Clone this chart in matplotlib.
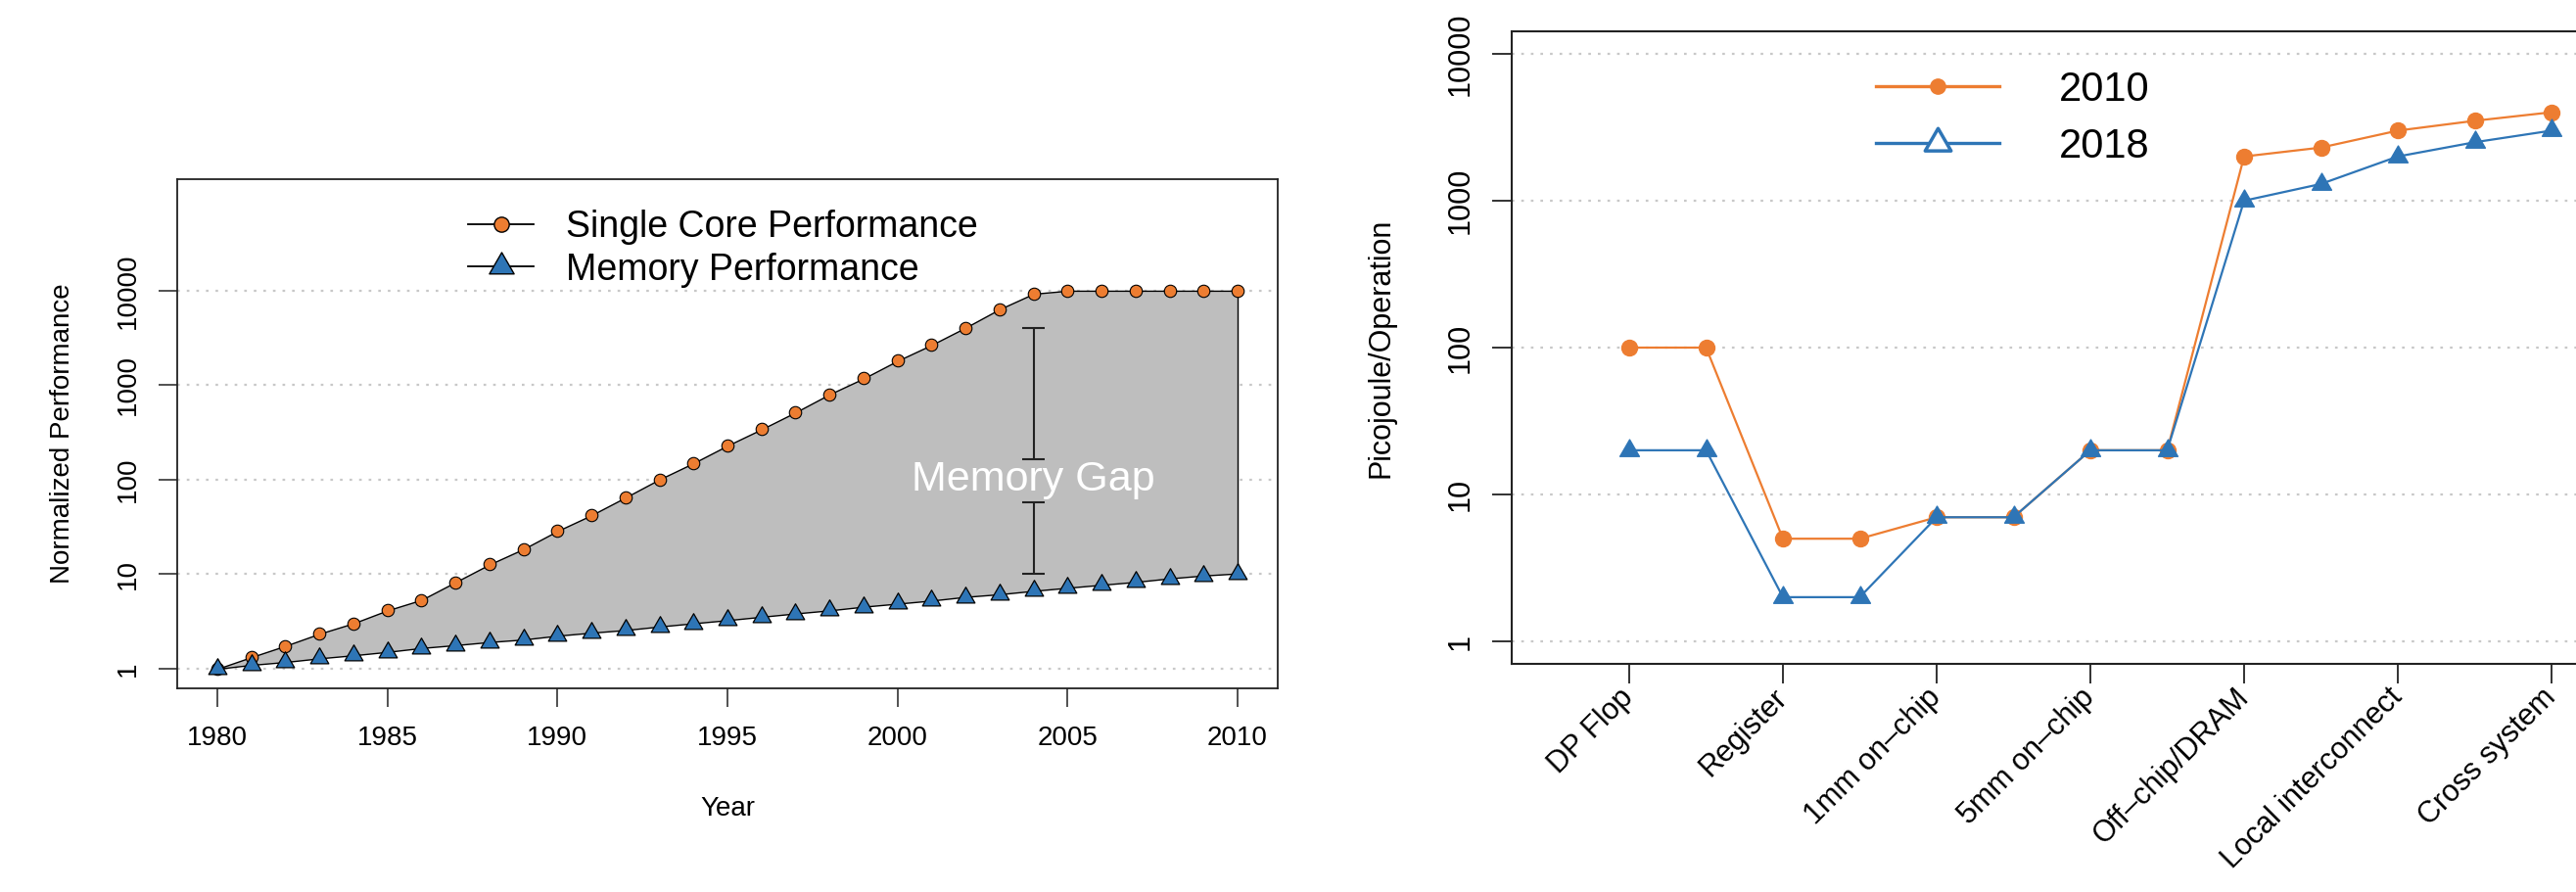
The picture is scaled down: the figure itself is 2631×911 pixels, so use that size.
import matplotlib
matplotlib.use('Agg')
import matplotlib.pyplot as plt
from matplotlib.lines import Line2D
from matplotlib.path import Path
from matplotlib.ticker import NullLocator

plt.rcParams['font.family'] = ['Liberation Sans', 'DejaVu Sans']

# ---------------- data: left panel ----------------
years = list(range(1980, 2011))
single_core = [1, 1.33, 1.75, 2.35, 3.03, 4.15, 5.36, 8.25, 12.7, 18.5,
               28.7, 42.2, 65, 101, 150, 230, 342, 517, 802, 1180,
               1815, 2670, 4070, 6380, 9290, 10000, 10000, 10000, 10000, 10000,
               10000]
memory = [1, 1.1, 1.18, 1.29, 1.39, 1.51, 1.66, 1.78, 1.92, 2.04,
          2.24, 2.41, 2.57, 2.8, 3.03, 3.27, 3.55, 3.85, 4.15, 4.54,
          4.89, 5.27, 5.77, 6.15, 6.68, 7.2, 7.74, 8.3, 9.05, 9.7,
          10.2]
left_yticks = [1, 10, 100, 1000, 10000]
left_xticks = [1980, 1985, 1990, 1995, 2000, 2005, 2010]
gap_year = 2004
gap_upper = [165, 4000]
gap_lower = [10, 58]
gap_label_value = 100

# ---------------- data: right panel ----------------
categories = ['DP Flop', 'Register', '1mm on\u2013chip', '5mm on\u2013chip',
              'Off\u2013chip/DRAM', 'Local interconnect', 'Cross system']
positions = list(range(1, 14))
category_positions = [1, 3, 5, 7, 9, 11, 13]
energy_2010 = [100, 100, 5, 5, 7, 7, 20, 20, 2000, 2300, 3000, 3500, 4000]
energy_2018 = [20, 20, 2, 2, 7, 7, 20, 20, 1000, 1300, 2000, 2500, 3000]
right_yticks = [1, 10, 100, 1000, 10000]

ORANGE = '#ED7D31'
BLUE = '#2E75B6'
GRID = '#C8C8C8'
tri = Path([(0, 1), (-0.866, -0.5), (0.866, -0.5), (0, 1)],
           [Path.MOVETO, Path.LINETO, Path.LINETO, Path.CLOSEPOLY])

W, H = 2631, 911
fig = plt.figure(figsize=(W / 100, H / 100), dpi=100)

# ================= left panel =================
ax1 = fig.add_axes([181 / W, 1 - 703 / H, (1305 - 181) / W, (703 - 183) / H])
ax1.set_yscale('log')
ax1.set_xlim(1978.82, 2011.18)
ax1.set_ylim(10 ** -0.207, 10 ** 5.18)
for v in left_yticks:
    ax1.axhline(v, color=GRID, lw=1.6, ls=(0, (1.2, 3.2)), zorder=0)
ax1.fill_between(years, memory, single_core, facecolor='#BEBEBE',
                 edgecolor='black', lw=1.0, zorder=2)
ax1.plot(years, single_core, ls='none', marker='o', ms=9, mfc=ORANGE,
         mec='black', mew=0.8, zorder=3)
ax1.plot(years, memory, ls='none', marker=tri, ms=15.5, mfc=BLUE,
         mec='black', mew=0.9, zorder=4)

# memory gap annotation
cap = 0.32
ax1.vlines(gap_year, gap_upper[0], gap_upper[1], color='#222222', lw=1.5, zorder=3)
ax1.vlines(gap_year, gap_lower[0], gap_lower[1], color='#222222', lw=1.5, zorder=3)
ax1.hlines(gap_upper + gap_lower, gap_year - cap, gap_year + cap,
           color='#222222', lw=1.5, zorder=3)
ax1.text(gap_year, gap_label_value, 'Memory Gap', color='white', fontsize=31,
         ha='center', va='center', zorder=5)

ax1.set_yticks(left_yticks, [str(v) for v in left_yticks])
ax1.yaxis.set_minor_locator(NullLocator())
ax1.set_xticks(left_xticks, [str(v) for v in left_xticks])
ax1.tick_params(axis='both', direction='out', length=13.5, width=1.1,
                labelsize=20, color='#222222')
ax1.tick_params(axis='x', pad=14)
ax1.tick_params(axis='y', pad=13, labelrotation=90)
for lbl in ax1.get_yticklabels():
    lbl.set_va('center')
for s in ax1.spines.values():
    s.set_linewidth(1.3)
    s.set_color('#222222')

ax1.set_xlabel('Year', fontsize=20)
ax1.xaxis.set_label_coords(0.5, (703 - 826) / 520)
ax1.xaxis.label.set_va('center')
ax1.set_ylabel('Normalized Performance', fontsize=20)
ax1.yaxis.set_label_coords((64 - 181) / 1124, 0.5)
ax1.yaxis.label.set_va('center')

h1 = [Line2D([], [], color='black', lw=1.3, marker='o', ms=11, mfc=ORANGE,
             mec='black', mew=1.0),
      Line2D([], [], color='black', lw=1.3, marker=tri, ms=21, mfc=BLUE,
             mec='black', mew=1.0)]
ax1.legend(h1, ['Single Core Performance', 'Memory Performance'],
           loc='upper left', bbox_to_anchor=(478 / W, 1 - 214 / H),
           bbox_transform=fig.transFigure, frameon=False, fontsize=27,
           handlelength=1.79, handletextpad=0.88, labelspacing=0.2,
           borderpad=0, borderaxespad=0)

# ================= right panel =================
step = 78.5
x0 = 1544
xl = 1 - (1664 - x0) / step
xr = 14.53
ax2 = fig.add_axes([x0 / W, 1 - 678 / H, (xr - xl) * step / W, (678 - 32) / H])
ax2.set_yscale('log')
ax2.set_xlim(xl, xr)
ax2.set_ylim(10 ** -0.153, 10 ** 4.153)
for v in right_yticks:
    ax2.axhline(v, color=GRID, lw=1.6, ls=(0, (1.2, 3.2)), zorder=0)
ax2.plot(positions, energy_2010, color=ORANGE, lw=1.6, marker='o', ms=11.5,
         mec=ORANGE, zorder=3)
ax2.plot(positions, energy_2018, color=BLUE, lw=1.6, marker=tri, ms=16.5,
         mec=BLUE, mfc=BLUE, zorder=4)

ax2.set_yticks(right_yticks, [str(v) for v in right_yticks])
ax2.yaxis.set_minor_locator(NullLocator())
ax2.set_xticks(category_positions, categories)
ax2.tick_params(axis='both', direction='out', length=14.5, width=1.3,
                labelsize=22, color='#222222')
ax2.tick_params(axis='y', pad=12.5, labelrotation=90)
ax2.tick_params(axis='x', pad=7)
for lbl in ax2.get_yticklabels():
    lbl.set_va('center')
for lbl in ax2.get_xticklabels():
    lbl.set_rotation(45)
    lbl.set_ha('right')
    lbl.set_va('center')
    lbl.set_rotation_mode('anchor')
for s in ax2.spines.values():
    s.set_linewidth(1.5)
    s.set_color('#222222')

ax2.set_ylabel('Picojoule/Operation', fontsize=22)
ax2.yaxis.set_label_coords((1410 - 1544) / ((xr - xl) * step), 0.5)
ax2.yaxis.label.set_va('center')

h2 = [Line2D([], [], color=ORANGE, lw=2.4, marker='o', ms=11, mfc=ORANGE,
             mec=ORANGE),
      Line2D([], [], color=BLUE, lw=2.4, marker=tri, ms=22, mfc='white',
             mec=BLUE, mew=2.5)]
ax2.legend(h2, ['2010', '2018'], loc='upper left',
           bbox_to_anchor=(1916 / W, 1 - 72 / H), bbox_transform=fig.transFigure,
           frameon=False, fontsize=30, handlelength=3.02, handletextpad=1.46,
           labelspacing=0.43, borderpad=0, borderaxespad=0)

fig.savefig('out.png', dpi=100)
